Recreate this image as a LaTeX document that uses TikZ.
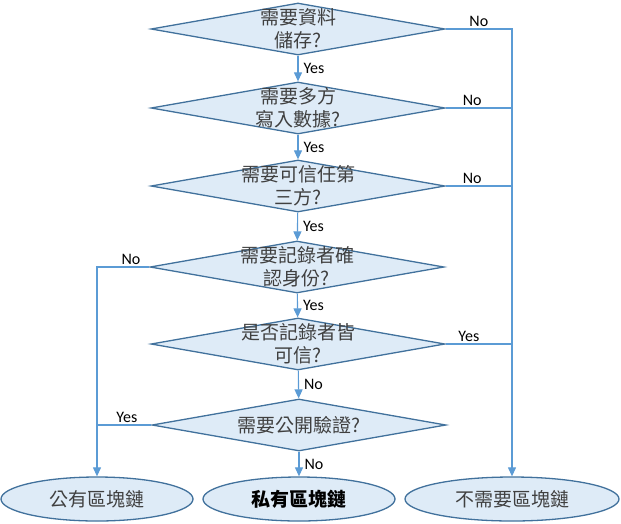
\documentclass[tikz,border=0pt]{standalone}
\usepackage{fontspec}
\setmainfont{Carlito}
\newfontfamily\cjk{Noto Sans CJK TC}
\usetikzlibrary{arrows.meta,shapes.geometric}
\definecolor{flowblue}{HTML}{5B9BD5}
\definecolor{edgeblue}{HTML}{41719C}
\definecolor{fillblue}{HTML}{DEEBF7}
\definecolor{txtgray}{HTML}{404040}
\tikzset{
	decision/.style={diamond, draw=edgeblue, fill=fillblue, line width=1.3pt, inner sep=0pt, minimum width=294pt, minimum height=52pt},
	outcome/.style={ellipse, draw=edgeblue, fill=fillblue, line width=1.3pt, inner sep=0pt, minimum width=#1, minimum height=44pt, font=\cjk\fontsize{19}{23}\selectfont, text=txtgray},
	qtext/.style={align=center, font=\cjk\fontsize{19}{23}\selectfont, text=txtgray, inner sep=0pt},
	flow/.style={draw=flowblue, line width=1.1pt},
	flowarrow/.style={flow, -{Triangle[length=9pt,width=8pt]}},
	ans/.style={font=\fontsize{16}{18}\selectfont, text=black, inner sep=2pt},
}

\begin{document}
\begin{tikzpicture}[x=1pt, y=-1pt]
			%%%%% START %%%%%
			\useasboundingbox (0,0) rectangle (621,523);
			
			% questions
			\node[decision, label={[qtext]center:{需要資料\\儲存?}}] (q1) at (298,29) {};
			\node[decision, label={[qtext]center:{需要多方\\寫入數據?}}] (q2) at (298,108) {};
			\node[decision, label={[qtext]center:{需要可信任第\\三方?}}] (q3) at (298,186) {};
			\node[decision, label={[qtext]center:{需要記錄者確\\認身份?}}] (q4) at (297,267) {};
			\node[decision, label={[qtext]center:{是否記錄者皆\\可信?}}] (q5) at (298,344) {};
			\node[decision, label={[qtext]center:{需要公開驗證?}}] (q6) at (299,425) {};
			
			% results
			\node[outcome=192pt] (pub) at (97,499) {公有區塊鏈};
			\node[outcome=192pt, text=black, font=\cjk\bfseries\fontsize{19}{23}\selectfont] (priv) at (299,499) {私有區塊鏈};
			\node[outcome=214pt] (none) at (512,499) {不需要區塊鏈};
			
			\coordinate (rtop) at (512,29);
			\coordinate (ltop) at (97,267);
			
			% down the middle
			\draw[flowarrow] (q1) -- node[ans, right, xshift=3pt] {Yes} (q2);
			\draw[flowarrow] (q2) -- node[ans, right, xshift=3pt] {Yes} (q3);
			\draw[flowarrow] (q3) -- node[ans, right, xshift=3pt] {Yes} (q4);
			\draw[flowarrow] (q4) -- node[ans, right, xshift=3pt] {Yes} (q5);
			\draw[flowarrow] (q5) -- node[ans, right, xshift=3pt] {No} (q6);
			\draw[flowarrow] (q6) -- node[ans, right, xshift=3pt] {No} (priv);
			
			% right side
			\draw[flowarrow] (q1.east) -- node[ans, above, pos=0.5] {No} (rtop) -- (none);
			\draw[flow] (q2.east) -- node[ans, above, pos=0.4] {No} (q2.east -| rtop);
			\draw[flow] (q3.east) -- node[ans, above, pos=0.4] {No} (q3.east -| rtop);
			\draw[flow] (q5.east) -- node[ans, above, pos=0.35] {Yes} (q5.east -| rtop);
			
			% left side
			\draw[flowarrow] (q4.west) -- node[ans, above, pos=0.35] {No} (ltop) -- (pub);
			\draw[flow] (q6.west) -- node[ans, above, pos=0.45] {Yes} (q6.west -| ltop);
			
			%%%%% END %%%%%
\end{tikzpicture}
\end{document}
